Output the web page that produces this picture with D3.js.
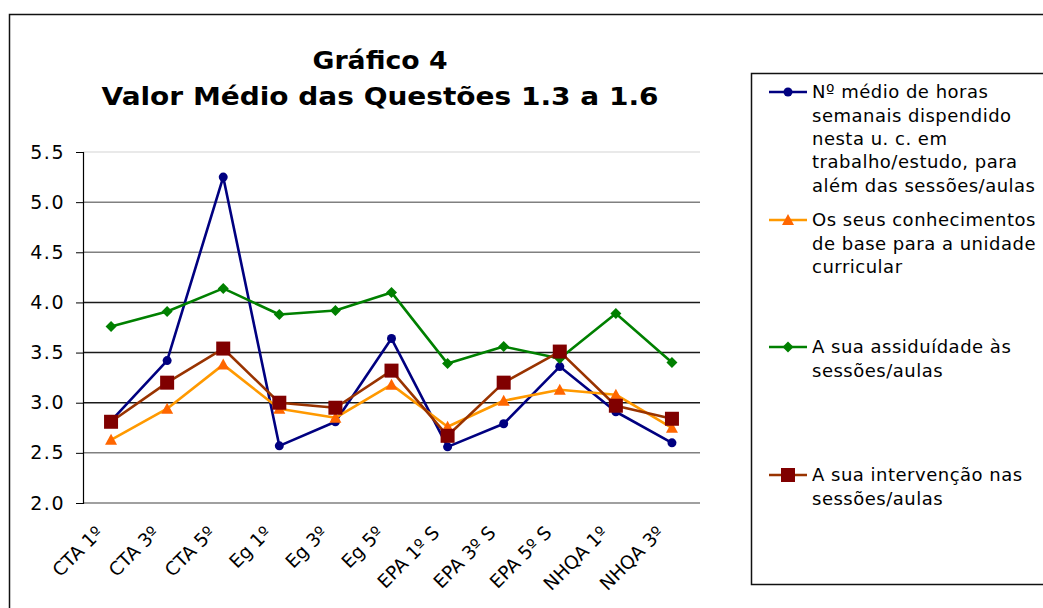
<!DOCTYPE html>
<html>
<head>
<meta charset="utf-8">
<script src="https://cdn.jsdelivr.net/npm/d3@7"></script>
<style>
  body { margin: 0; background: #fff; }
  svg { display: block; font-family: "DejaVu Sans", Verdana, sans-serif; }
</style>
</head>
<body>
<svg id="chart" width="1043" height="608"></svg>
<script>
// categories on the x axis
const categories = ["CTA 1º", "CTA 3º", "CTA 5º", "Eg 1º", "Eg 3º", "Eg 5º",
  "EPA 1º S", "EPA 3º S", "EPA 5º S", "NHQA 1º", "NHQA 3º"];

// series values
const horasSemanais = [2.82, 3.42, 5.25, 2.57, 2.81, 3.64, 2.56, 2.79, 3.36, 2.91, 2.60];
const conhecimentos = [2.63, 2.94, 3.38, 2.94, 2.85, 3.18, 2.76, 3.02, 3.13, 3.08, 2.75];
const assiduidade   = [3.76, 3.91, 4.14, 3.88, 3.92, 4.10, 3.39, 3.56, 3.44, 3.89, 3.40];
const intervencao   = [2.81, 3.20, 3.54, 3.00, 2.95, 3.32, 2.67, 3.20, 3.51, 2.97, 2.84];

const yTicks = [2.0, 2.5, 3.0, 3.5, 4.0, 4.5, 5.0, 5.5];

const legendLabels = [
  ["Nº médio de horas", "semanais dispendido", "nesta u. c. em", "trabalho/estudo, para", "além das sessões/aulas"],
  ["Os seus conhecimentos", "de base para a unidade", "curricular"],
  ["A sua assiduídade às", "sessões/aulas"],
  ["A sua intervenção nas", "sessões/aulas"]
];

const titleLines = ["Gráfico 4", "Valor Médio das Questões 1.3 a 1.6"];

// series styling
const series = [
  { values: horasSemanais, line: "#000080", fill: "#000080", symbol: "circle" },
  { values: conhecimentos, line: "#FF9900", fill: "#FF6600", symbol: "triangle" },
  { values: assiduidade,   line: "#008000", fill: "#008000", symbol: "diamond" },
  { values: intervencao,   line: "#993300", fill: "#800000", symbol: "square" }
];

const svg = d3.select("#chart");

// outer chart border (runs off the right and bottom edge)
svg.append("rect")
  .attr("x", 9.5).attr("y", 14.5)
  .attr("width", 1100).attr("height", 700)
  .attr("fill", "none").attr("stroke", "#111").attr("stroke-width", 1.5);

// title
const titleY = [69, 105];
const titleW = [135, 557];
titleLines.forEach((t, i) => {
  svg.append("text")
    .attr("x", 380 - titleW[i] / 2).attr("y", titleY[i])
    .attr("textLength", titleW[i]).attr("lengthAdjust", "spacingAndGlyphs")
    .attr("font-size", 25).attr("font-weight", "bold")
    .attr("fill", "#000")
    .text(t);
});

// scales
const plot = { left: 83, right: 700, top: 152, bottom: 503 };
const x = d3.scaleBand().domain(categories).range([plot.left, plot.right]);
const cx = d => x(d) + x.bandwidth() / 2;
const y = d3.scaleLinear().domain([2, 5.5]).range([plot.bottom, plot.top]);

// gridlines
const gridColor = v => v === 5.5 ? "#e2e2e2" : (v >= 3 && v <= 4 ? "#1a1a1a" : "#808080");
svg.append("g").selectAll("line")
  .data(yTicks)
  .join("line")
  .attr("x1", plot.left).attr("x2", plot.right)
  .attr("y1", d => y(d)).attr("y2", d => y(d))
  .attr("stroke", d => gridColor(d))
  .attr("stroke-width", 1.5);

// y axis
const yAxis = d3.axisLeft(y).tickValues(yTicks).tickFormat(d3.format(".1f"))
  .tickSize(7).tickPadding(11);
const gy = svg.append("g")
  .attr("transform", `translate(${plot.left},0)`)
  .call(yAxis);
gy.select(".domain").attr("stroke", "#000").attr("stroke-width", 1.2);
gy.selectAll(".tick line").attr("stroke", "#000");
gy.selectAll(".tick text")
  .attr("font-size", 19).attr("letter-spacing", "1.5px")
  .attr("font-family", "DejaVu Sans").attr("fill", "#000");

// x labels, rotated
svg.append("g").selectAll("text")
  .data(categories)
  .join("text")
  .attr("transform", d => `translate(${cx(d) - 7},${534}) rotate(-45)`)
  .attr("text-anchor", "end")
  .attr("font-size", 18.5)
  .attr("fill", "#000")
  .text(d => d);

// marker shapes
function marker(sel, type, fill) {
  if (type === "circle") {
    sel.append("circle").attr("r", 4.5).attr("fill", fill);
  } else if (type === "triangle") {
    sel.append("path").attr("d", "M0,-6L6,5L-6,5Z").attr("fill", fill);
  } else if (type === "diamond") {
    sel.append("path").attr("d", "M0,-5.5L5.5,0L0,5.5L-5.5,0Z").attr("fill", fill);
  } else {
    sel.append("rect").attr("x", -7).attr("y", -7).attr("width", 14).attr("height", 14).attr("fill", fill);
  }
}

const line = d3.line()
  .x((d, i) => cx(categories[i]))
  .y(d => y(d));

series.forEach(s => {
  const g = svg.append("g");
  g.append("path")
    .attr("d", line(s.values))
    .attr("fill", "none")
    .attr("stroke", s.line)
    .attr("stroke-width", 2.6)
    .attr("stroke-linejoin", "round");
  g.selectAll("g.pt")
    .data(s.values)
    .join("g")
    .attr("class", "pt")
    .attr("transform", (d, i) => `translate(${cx(categories[i])},${y(d)})`)
    .each(function () { marker(d3.select(this), s.symbol, s.fill); });
});

// legend box
svg.append("rect")
  .attr("x", 751.5).attr("y", 73.5)
  .attr("width", 400).attr("height", 511)
  .attr("fill", "#fff").attr("stroke", "#111").attr("stroke-width", 1.5);

const legendY = [92, 220, 347, 475];
const lineStep = 23.3;
series.forEach((s, i) => {
  const g = svg.append("g").attr("transform", `translate(0,${legendY[i]})`);
  g.append("line")
    .attr("x1", 769).attr("x2", 807).attr("y1", 0).attr("y2", 0)
    .attr("stroke", s.line).attr("stroke-width", 2.6);
  marker(g.append("g").attr("transform", "translate(788,0)"), s.symbol, s.fill);
  legendLabels[i].forEach((t, j) => {
    g.append("text")
      .attr("x", 812).attr("y", j * lineStep)
      .attr("dy", "0.36em")
      .attr("font-size", 18).attr("letter-spacing", "0.5px")
      .attr("fill", "#000")
      .text(t);
  });
});
</script>
</body>
</html>
